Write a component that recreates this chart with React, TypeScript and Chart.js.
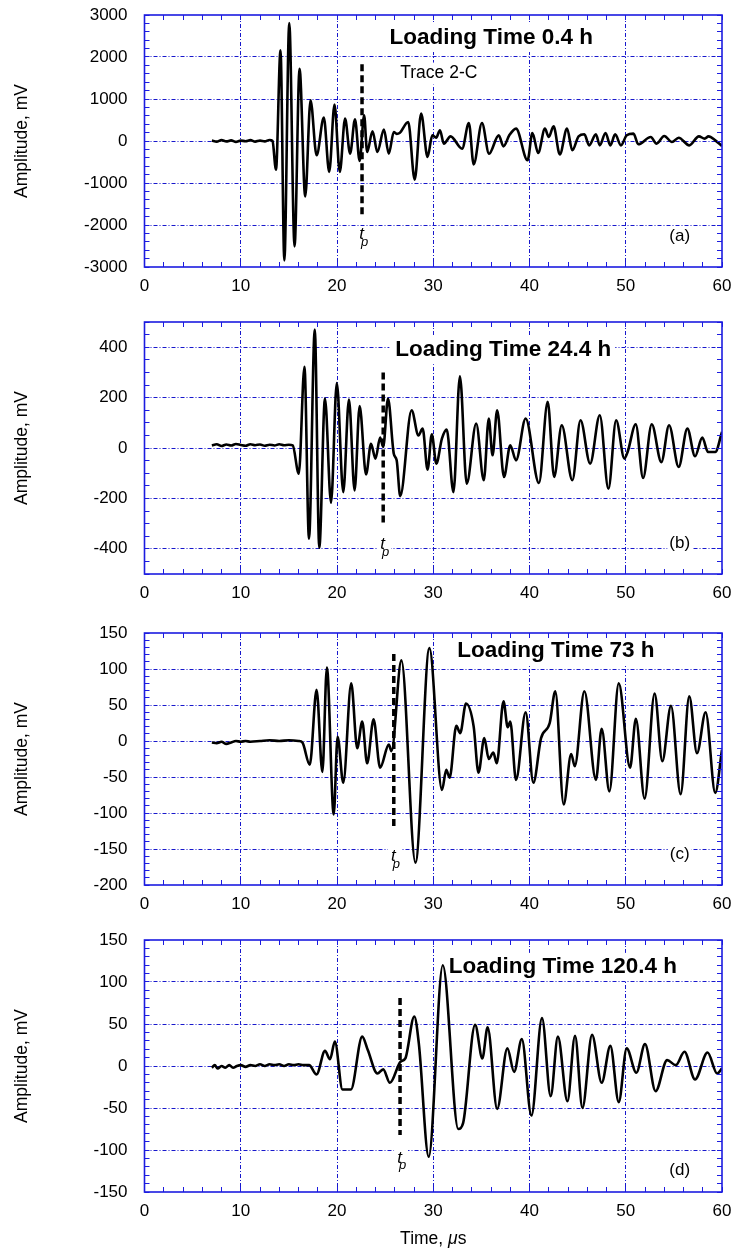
import React, { useEffect, useRef } from 'react';
import { Chart, registerables } from 'chart.js';
Chart.register(...registerables);

// ---------- data ----------
// (a) Loading Time 0.4 h
const TIME_A = [7.0, 7.5, 8.0, 8.5, 9.0, 9.5, 10.0, 10.5, 11.0, 11.5, 12.0, 12.5, 13.0, 13.3, 13.66, 14.13, 14.53, 15.04, 15.59, 16.11, 16.7, 17.25, 17.88, 18.63, 19.19, 19.74, 20.29, 20.84, 21.36, 21.87, 22.35, 22.82, 23.13, 23.69, 24.2, 24.87, 25.38, 25.9, 26.2, 26.5, 27.4, 28.07, 28.74, 29.41, 29.9, 30.3, 30.7, 31.1, 31.8, 33.0, 33.7, 34.2, 35.06, 35.8, 36.8, 37.3, 37.9, 38.6, 39.8, 40.3, 40.9, 41.6, 42.0, 42.5, 43.15, 43.9, 44.45, 45.1, 45.7, 46.2, 46.9, 47.3, 47.9, 48.4, 48.9, 49.5, 50.1, 50.8, 51.3, 52.6, 53.2, 54.0, 54.8, 55.5, 56.6, 57.6, 58.2, 58.6, 59.3, 60.0];
const AMP_A = [10, -15, 20, -10, 15, -20, 10, -5, 20, -15, 10, -10, 25, 0, -683, 2159, -2842, 2810, -2508, 1722, -1318, 968, -341, 556, -738, 865, -738, 532, -302, 516, -476, 611, -262, 230, -262, 270, -302, 214, 170, 190, 452, -921, 651, -381, 135, 80, 254, -63, 111, -183, 429, -556, 429, -302, 135, -127, 135, 294, -460, 190, -286, 294, 95, 349, -318, 294, -222, 111, 159, -103, 159, -103, 190, -103, 159, -103, 135, 175, -79, 95, -63, 119, -24, 79, -103, 111, 56, 111, 16, -119];

// (b) Loading Time 24.4 h
const TIME_B = [7.0, 7.5, 8.0, 8.5, 9.0, 9.5, 10.0, 10.5, 11.0, 11.5, 12.0, 12.5, 13.0, 13.5, 14.0, 14.5, 15.0, 15.4, 16.03, 16.62, 17.09, 17.69, 18.16, 18.75, 19.38, 19.98, 20.65, 21.24, 21.83, 22.35, 23.02, 23.53, 24.0, 24.48, 24.8, 25.3, 25.9, 26.2, 26.57, 27.75, 28.46, 28.9, 29.41, 29.85, 30.32, 30.9, 31.4, 32.1, 32.77, 33.48, 34.46, 35.25, 35.77, 36.16, 36.64, 37.35, 38.0, 38.6, 39.6, 40.98, 41.89, 42.56, 43.35, 44.45, 45.3, 46.3, 47.3, 48.2, 49.0, 49.86, 50.2, 51.04, 51.8, 52.7, 53.7, 54.5, 55.5, 56.4, 57.2, 57.95, 58.55, 59.3, 60.0];
const AMP_B = [10, 15, 8, 14, 10, 16, 12, 9, 15, 11, 14, 9, 13, 10, 15, 11, 13, 10, -102, 322, -360, 470, -396, 196, -217, 258, -175, 192, -168, 166, -105, 17, -42, 41, 4, 196, -23, -49, -191, 150, 50, 77, -86, 54, -62, 37, 73, -175, 285, -142, 97, -128, 117, -29, 150, -115, 11, -49, 117, -139, 183, -115, 90, -128, 110, -62, 130, -162, 110, -42, -15, 94, -119, 94, -56, 90, -75, 77, -33, 41, -16, -16, 64];

// (c) Loading Time 73 h
const TIME_C = [7.0, 7.5, 8.0, 8.5, 9.0, 9.5, 10.0, 10.5, 11.0, 12.0, 13.0, 14.0, 15.0, 16.0, 16.4, 17.17, 17.88, 18.48, 18.95, 19.66, 20.06, 20.65, 21.48, 22.1, 22.62, 23.13, 23.8, 24.48, 25.38, 25.66, 26.69, 28.15, 29.6, 30.91, 31.35, 31.7, 32.4, 32.8, 33.4, 34.2, 34.7, 35.3, 35.77, 36.24, 36.6, 37.3, 37.74, 38.0, 38.6, 39.6, 40.4, 41.2, 42.1, 42.68, 43.55, 44.33, 44.7, 45.7, 46.9, 47.5, 48.3, 49.27, 50.45, 51.05, 51.96, 53.0, 53.8, 54.7, 55.7, 56.6, 57.4, 58.3, 59.3, 60.0];
const AMP_C = [-2, -3, -1, -4, -2, 0, -1, 0, -1, 0, 1, 0, 1, 0, -2, -33, 71, -43, 102, -102, 6, -58, 80, -10, 27, -31, 30, -37, -5, -14, 112, -169, 129, -68, -40, -51, 21, 11, 52, 20, -44, 4, -25, -16, -31, 55, 19, 27, -54, 40, -58, 4, 25, 69, -88, -18, -35, 69, -54, 17, -70, 80, -37, 31, -80, 66, -28, 49, -74, 62, -17, 40, -72, -12];

// (d) Loading Time 120.4 h
const TIME_D = [7.0, 7.3, 7.6, 8.0, 8.4, 8.8, 9.2, 9.6, 10.0, 10.5, 11.0, 11.5, 12.0, 12.5, 13.0, 13.5, 14.0, 14.5, 15.0, 15.5, 16.0, 16.5, 17.1, 17.88, 18.75, 19.27, 19.78, 20.57, 21.44, 22.62, 23.2, 24.2, 24.8, 25.5, 26.6, 27.1, 28.03, 28.5, 29.53, 30.99, 32.6, 33.1, 34.35, 35.1, 35.65, 36.64, 37.7, 38.4, 39.2, 40.2, 41.3, 42.2, 42.95, 43.94, 44.73, 45.5, 46.5, 47.5, 48.4, 49.27, 50.1, 51.1, 52.0, 53.1, 54.3, 55.2, 56.1, 57.2, 58.5, 59.5, 60.0];
const AMP_D = [-2, 1, -3, 0, -2, 1, -2, 0, 1, -1, 1, 0, 2, 0, 2, 1, 2, 0, 2, 1, 2, 1, 1, -10, 18, 8, 29, -28, -28, 35, 19, -9, -4, -20, 5, 9, 59, 27, -108, 120, -75, -68, 49, 9, 46, -51, 21, -7, 32, -59, 57, -36, 35, -42, 36, -50, 37, -20, 24, -43, 21, -8, 26, -30, 7, 1, 17, -16, 16, -9, -3];

// axes
const X_TICKS = [0, 10, 20, 30, 40, 50, 60];
const X_MIN = 0;
const X_MAX = 60;
const X_MINOR = 2;
const Y_TICKS_A = [-3000, -2000, -1000, 0, 1000, 2000, 3000];
const Y_TICKS_B = [-400, -200, 0, 200, 400];
const Y_TICKS_C = [-200, -150, -100, -50, 0, 50, 100, 150];
const Y_TICKS_D = [-150, -100, -50, 0, 50, 100, 150];
const Y_MIN = [-3000, -500, -200, -150];
const Y_MAX = [3000, 500, 150, 150];
const Y_MINOR = [200, 50, 10, 10];

// t_p markers
const TP_TIME = [22.6, 24.8, 25.9, 26.55];
const TP_TOP = [1830, 300, 121, 81];
const TP_BOTTOM = [-1830, -305, -123, -82];
const TP_LABEL_Y = [-2340, -401, -167, -115];

// annotations
const TITLES = ['Loading Time 0.4 h', 'Loading Time 24.4 h', 'Loading Time 73 h', 'Loading Time 120.4 h'];
const TITLE_X = [25.46, 26.06, 32.5, 31.6];
const TITLE_Y = [2452, 388, 125, 118];
const LETTERS = ['(a)', '(b)', '(c)', '(d)'];
const LETTER_X = 55.6;
const LETTER_Y = [-2264, -377, -158, -124];
const TRACE_LABEL = 'Trace 2-C';
const TRACE_X = 26.57;
const TRACE_Y = 1605;
const Y_TITLE = 'Amplitude, mV';

// ---------- layout / style ----------
const FONT = '"Liberation Sans", Arial, Helvetica, sans-serif';
const CHART_TOPS = [15, 322, 633, 940];
const PLOT_H = 252;
const PAD_TOP = 15;
const X_AXIS_H = [40, 40, 40, 60];
const BORDER_COLOR = '#1c1ce0';
const GRID_COLOR = '#1818cc';

const SERIES = [
  { t: TIME_A, v: AMP_A, ticks: Y_TICKS_A },
  { t: TIME_B, v: AMP_B, ticks: Y_TICKS_B },
  { t: TIME_C, v: AMP_C, ticks: Y_TICKS_C },
  { t: TIME_D, v: AMP_D, ticks: Y_TICKS_D },
];

function Panel({ idx }: { idx: number }) {
  const ref = useRef<HTMLCanvasElement>(null);
  const height = PAD_TOP + PLOT_H + X_AXIS_H[idx];
  const top = CHART_TOPS[idx] - PAD_TOP;

  useEffect(() => {
    const s = SERIES[idx];
    const isLast = idx === 3;

    const whiteBox = (ctx: CanvasRenderingContext2D, x: number, y: number, w: number, h: number) => {
      ctx.save();
      ctx.fillStyle = '#ffffff';
      ctx.fillRect(x, y, w, h);
      ctx.restore();
    };

    const decor = {
      id: 'decor' + idx,
      beforeDatasetsDraw(chart: any) {
        const { ctx, chartArea: ca, scales } = chart;
        const xs = scales.x;
        const ys = scales.y;
        ctx.save();
        ctx.strokeStyle = GRID_COLOR;
        ctx.lineWidth = 1;
        ctx.setLineDash([4, 2, 1, 2]);
        for (const v of X_TICKS) {
          if (v <= X_MIN || v >= X_MAX) continue;
          const px = Math.floor(xs.getPixelForValue(v)) + 0.5;
          ctx.beginPath();
          ctx.moveTo(px, ca.top);
          ctx.lineTo(px, ca.bottom);
          ctx.stroke();
        }
        for (const v of s.ticks) {
          if (v <= Y_MIN[idx] || v >= Y_MAX[idx]) continue;
          const py = Math.floor(ys.getPixelForValue(v)) + 0.5;
          ctx.beginPath();
          ctx.moveTo(ca.left, py);
          ctx.lineTo(ca.right, py);
          ctx.stroke();
        }
        ctx.restore();

        // white boxes behind labels
        ctx.save();
        ctx.font = `bold 22.5px ${FONT}`;
        const tx = xs.getPixelForValue(TITLE_X[idx]);
        const ty = ys.getPixelForValue(TITLE_Y[idx]);
        const tw = ctx.measureText(TITLES[idx]).width;
        whiteBox(ctx, tx - 6, ty - 14, tw + 10, 28);
        if (idx === 0) {
          ctx.font = `17.5px ${FONT}`;
          const w2 = ctx.measureText(TRACE_LABEL).width;
          whiteBox(ctx, xs.getPixelForValue(TRACE_X) - 3, ys.getPixelForValue(TRACE_Y) - 11, w2 + 6, 22);
        }
        ctx.font = `17px ${FONT}`;
        const lw = ctx.measureText(LETTERS[idx]).width;
        whiteBox(ctx, xs.getPixelForValue(LETTER_X) - lw / 2 - 2, ys.getPixelForValue(LETTER_Y[idx]) - 10, lw + 4, 20);
        const lx = xs.getPixelForValue(TP_TIME[idx]);
        const lby = ys.getPixelForValue(TP_LABEL_Y[idx]);
        whiteBox(ctx, lx - 6, lby - 13, 14, 24);
        ctx.restore();
      },
      afterDatasetsDraw(chart: any) {
        const { ctx, chartArea: ca, scales } = chart;
        const xs = scales.x;
        const ys = scales.y;
        ctx.save();
        // minor ticks
        ctx.strokeStyle = BORDER_COLOR;
        ctx.lineWidth = 1;
        const TL = 5;
        for (let v = X_MIN; v <= X_MAX + 1e-9; v += X_MINOR) {
          const px = Math.floor(xs.getPixelForValue(v)) + 0.5;
          ctx.beginPath();
          ctx.moveTo(px, ca.top);
          ctx.lineTo(px, ca.top + TL);
          ctx.moveTo(px, ca.bottom);
          ctx.lineTo(px, ca.bottom - TL);
          ctx.stroke();
        }
        for (let v = Y_MIN[idx]; v <= Y_MAX[idx] + 1e-9; v += Y_MINOR[idx]) {
          const py = Math.floor(ys.getPixelForValue(v)) + 0.5;
          ctx.beginPath();
          ctx.moveTo(ca.left, py);
          ctx.lineTo(ca.left + TL, py);
          ctx.moveTo(ca.right, py);
          ctx.lineTo(ca.right - TL, py);
          ctx.stroke();
        }
        // frame
        ctx.lineWidth = 1.6;
        ctx.strokeRect(ca.left, ca.top, ca.right - ca.left, ca.bottom - ca.top);

        // texts
        ctx.fillStyle = '#000';
        ctx.textBaseline = 'middle';
        ctx.textAlign = 'left';
        ctx.font = `bold 22.5px ${FONT}`;
        ctx.fillText(TITLES[idx], xs.getPixelForValue(TITLE_X[idx]), ys.getPixelForValue(TITLE_Y[idx]));
        if (idx === 0) {
          ctx.font = `17.5px ${FONT}`;
          ctx.fillText(TRACE_LABEL, xs.getPixelForValue(TRACE_X), ys.getPixelForValue(TRACE_Y));
        }
        ctx.font = `17px ${FONT}`;
        ctx.textAlign = 'center';
        ctx.fillText(LETTERS[idx], xs.getPixelForValue(LETTER_X), ys.getPixelForValue(LETTER_Y[idx]));

        // t_p label
        const lx = xs.getPixelForValue(TP_TIME[idx]);
        const lby = ys.getPixelForValue(TP_LABEL_Y[idx]);
        ctx.textBaseline = 'alphabetic';
        ctx.font = `italic 17px ${FONT}`;
        ctx.fillText('t', lx - 0.5, lby);
        ctx.font = `italic 13px ${FONT}`;
        ctx.fillText('p', lx + 2.5, lby + 6.5);

        if (isLast) {
          const cx = (ca.left + ca.right) / 2;
          const cy = ca.bottom + 47;
          ctx.textBaseline = 'middle';
          ctx.textAlign = 'left';
          const f1 = `17.5px ${FONT}`;
          const f2 = `italic 17.5px ${FONT}`;
          ctx.font = f1;
          const w1 = ctx.measureText('Time, ').width;
          const w3 = ctx.measureText('s').width;
          ctx.font = f2;
          const w2 = ctx.measureText('\u03bc').width;
          let x0 = cx - (w1 + w2 + w3) / 2;
          ctx.font = f1;
          ctx.fillText('Time, ', x0, cy);
          x0 += w1;
          ctx.font = f2;
          ctx.fillText('\u03bc', x0, cy);
          x0 += w2;
          ctx.font = f1;
          ctx.fillText('s', x0, cy);
        }
        ctx.restore();
      },
    };

    const chart = new Chart(ref.current as HTMLCanvasElement, {
      type: 'line',
      data: {
        datasets: [
          {
            data: s.t.map((t, i) => ({ x: t, y: s.v[i] })),
            borderColor: '#000',
            borderWidth: 2.6,
            pointRadius: 0,
            cubicInterpolationMode: 'monotone',
            fill: false,
          },
          {
            data: [
              { x: TP_TIME[idx], y: TP_TOP[idx] },
              { x: TP_TIME[idx], y: TP_BOTTOM[idx] },
            ],
            borderColor: '#000',
            borderWidth: 3.5,
            borderDash: [7, 4],
            pointRadius: 0,
            tension: 0,
            fill: false,
          },
        ],
      },
      options: {
        responsive: false,
        animation: false,
        devicePixelRatio: 1,
        events: [],
        layout: { padding: { top: PAD_TOP, left: 0, right: 14, bottom: 0 } },
        plugins: { legend: { display: false }, tooltip: { enabled: false } },
        scales: {
          x: {
            type: 'linear',
            min: X_MIN,
            max: X_MAX,
            grid: { display: false, drawTicks: false },
            border: { display: false },
            afterBuildTicks: (sc: any) => {
              sc.ticks = X_TICKS.map((v) => ({ value: v }));
            },
            afterFit: (sc: any) => {
              sc.height = X_AXIS_H[idx];
              sc.paddingLeft = 0;
              sc.paddingRight = 0;
              sc.paddingTop = 0;
              sc.paddingBottom = 0;
            },
            ticks: {
              autoSkip: false,
              maxRotation: 0,
              padding: 9,
              color: '#000',
              font: { family: FONT, size: 17 },
              callback: (v: any) => String(v),
            },
          },
          y: {
            type: 'linear',
            min: Y_MIN[idx],
            max: Y_MAX[idx],
            grid: { display: false, drawTicks: false },
            border: { display: false },
            afterBuildTicks: (sc: any) => {
              sc.ticks = s.ticks.map((v) => ({ value: v }));
            },
            afterFit: (sc: any) => {
              sc.width = 144.5;
              sc.paddingLeft = 0;
              sc.paddingRight = 0;
              sc.paddingTop = 0;
              sc.paddingBottom = 0;
            },
            title: {
              display: true,
              text: Y_TITLE,
              color: '#000',
              font: { family: FONT, size: 17.5 },
              padding: { top: 12, bottom: 0 },
            },
            ticks: {
              autoSkip: false,
              padding: 17,
              color: '#000',
              font: { family: FONT, size: 17 },
              callback: (v: any) => String(v),
            },
          },
        },
      } as any,
      plugins: [decor],
    });
    return () => chart.destroy();
  }, [idx]);

  return (
    <canvas
      ref={ref}
      width={736}
      height={height}
      style={{ position: 'absolute', left: 0, top, width: 736, height }}
    />
  );
}

export default function App() {
  return (
    <div style={{ position: 'absolute', left: 0, top: 0, width: 736, height: 1252, background: '#fff' }}>
      {[0, 1, 2, 3].map((i) => (
        <Panel key={i} idx={i} />
      ))}
    </div>
  );
}
